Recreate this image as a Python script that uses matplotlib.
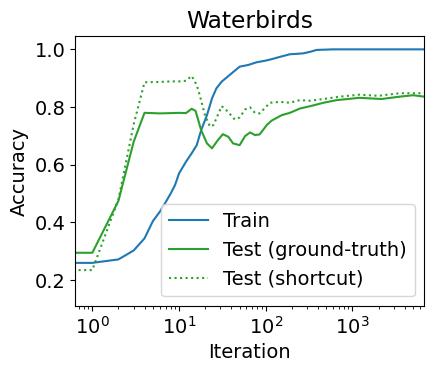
import matplotlib
matplotlib.use("Agg")
from matplotlib import pyplot as plt

# values
train_iter = [0.6, 1, 2, 3, 4, 5, 6, 7, 8, 9, 10, 12, 14, 16, 18, 21, 24, 27, 31, 39,
              50, 63, 78, 100, 117, 150, 190, 270, 330, 385, 600, 6750]
train_acc = [0.26, 0.26, 0.272, 0.303, 0.345, 0.405, 0.437, 0.47, 0.5, 0.53, 0.57, 0.61,
             0.64, 0.668, 0.72, 0.772, 0.83, 0.865, 0.888, 0.913, 0.94, 0.946, 0.955,
             0.961, 0.966, 0.975, 0.983, 0.986, 0.992, 0.998, 1.0, 1.0]

gt_iter = [0.6, 1, 2, 3, 4, 5, 6, 8, 10, 12, 14, 15.5, 18, 21, 24, 28, 32, 37, 42, 50,
           58, 66, 75, 85, 103, 117, 153, 190, 248, 325, 465, 655, 1200, 2170, 3500,
           5000, 6750]
gt_acc = [0.295, 0.295, 0.475, 0.68, 0.78, 0.779, 0.778, 0.779, 0.78, 0.779, 0.794,
          0.787, 0.72, 0.674, 0.657, 0.685, 0.706, 0.697, 0.674, 0.668, 0.7, 0.712,
          0.703, 0.705, 0.738, 0.753, 0.772, 0.78, 0.795, 0.803, 0.815, 0.824, 0.832,
          0.828, 0.836, 0.841, 0.836]

sc_iter = [0.6, 1, 2, 3, 4, 6, 8, 10, 12, 14, 16, 17.3, 20, 22.8, 25, 31, 35, 44, 50,
           58, 66, 75, 85, 112, 145, 190, 248, 325, 465, 713, 1200, 2000, 3500, 6750]
sc_acc = [0.235, 0.235, 0.48, 0.74, 0.886, 0.887, 0.889, 0.889, 0.891, 0.908, 0.876,
          0.842, 0.77, 0.732, 0.738, 0.803, 0.79, 0.757, 0.764, 0.792, 0.799, 0.78,
          0.778, 0.815, 0.818, 0.815, 0.824, 0.822, 0.828, 0.836, 0.843, 0.839, 0.848,
          0.848]

plt.rcParams['font.size'] = 14

fig = plt.figure(figsize=(4.33, 3.72), dpi=100)
ax = fig.add_axes([0.174, 0.177, 0.806, 0.726])

ax.plot(train_iter, train_acc, color='tab:blue', label='Train')
ax.plot(gt_iter, gt_acc, color='tab:green', label='Test (ground-truth)')
ax.plot(sc_iter, sc_acc, color='tab:green', linestyle=':', label='Test (shortcut)')

ax.set_xscale('log')
ax.set_xlim(0.637, 6750)
ax.set_ylim(0.11, 1.046)
ax.set_yticks([0.2, 0.4, 0.6, 0.8, 1.0])

ax.set_xlabel('Iteration')
ax.set_ylabel('Accuracy')
ax.set_title('Waterbirds')
ax.legend(loc='lower right')

fig.savefig('out.png', dpi=100)
plt.close(fig)
